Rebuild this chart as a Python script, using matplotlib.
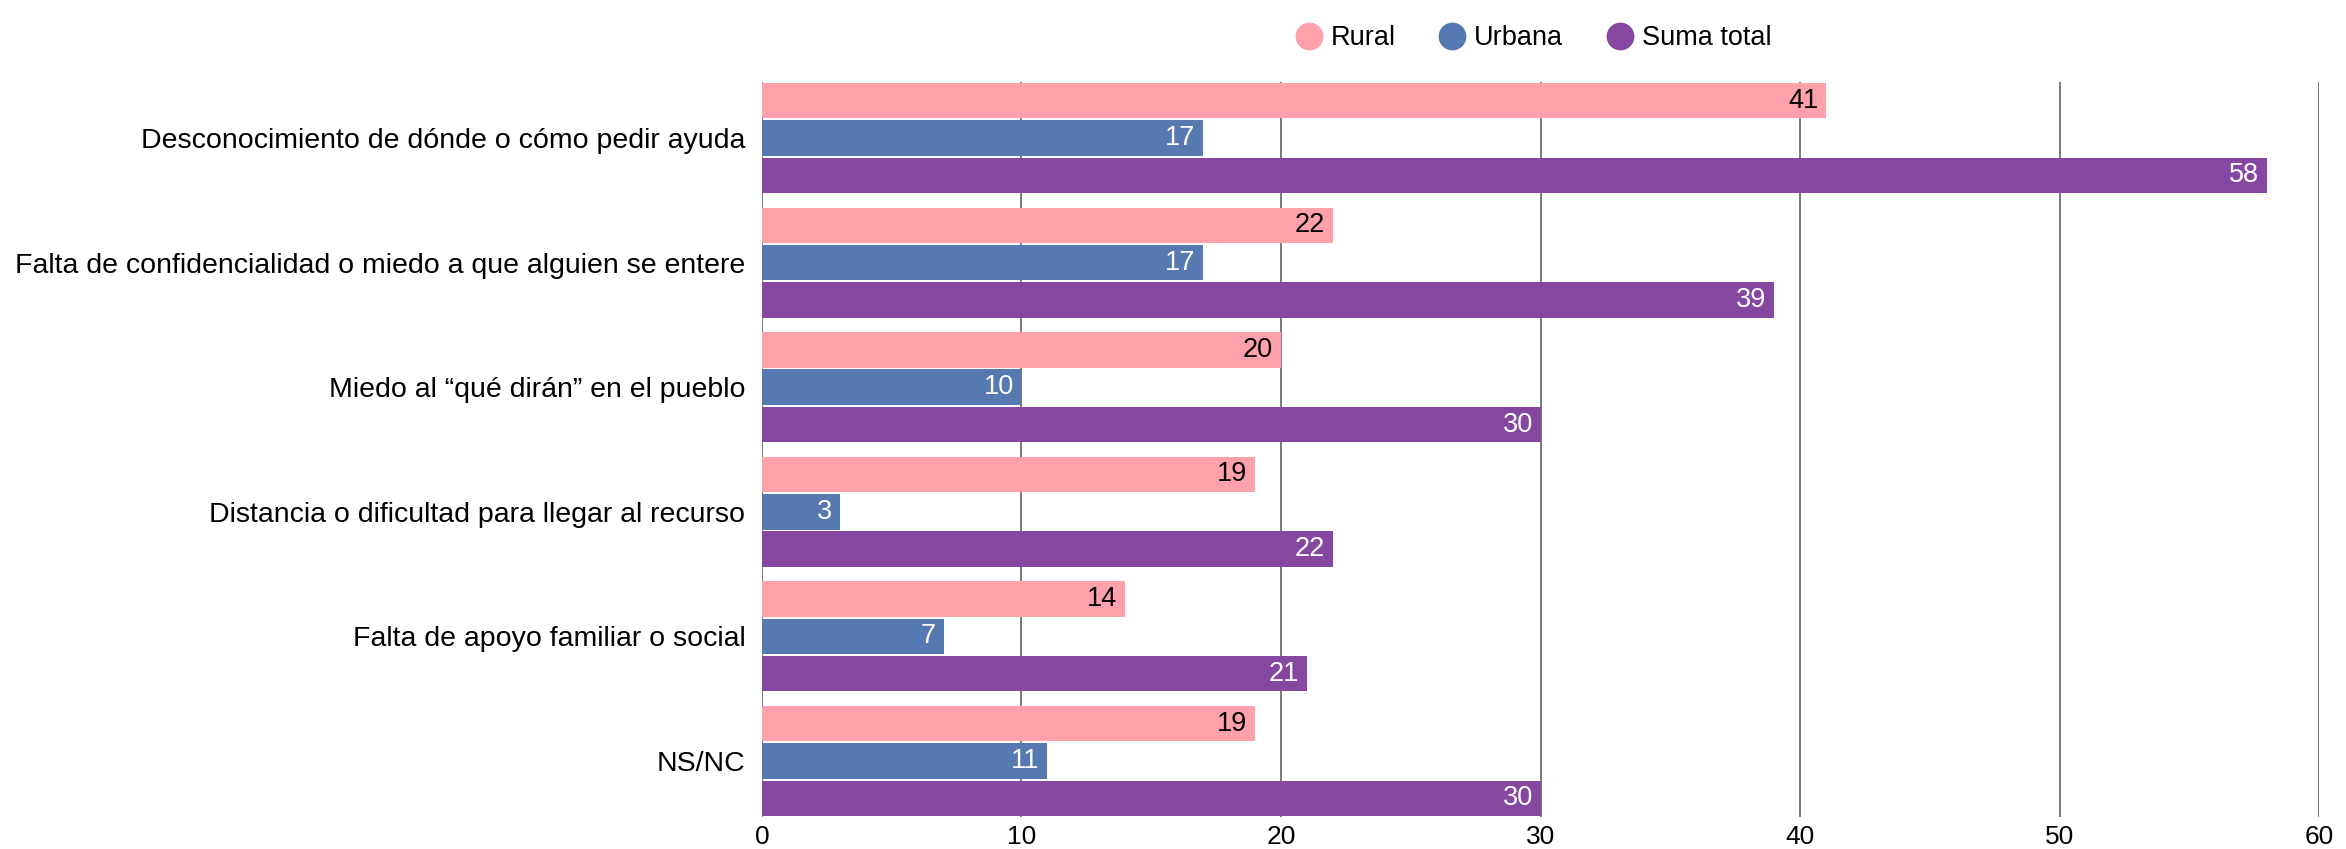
import numpy as np
import matplotlib.pyplot as plt
from matplotlib.lines import Line2D

plt.rcParams['font.family'] = ['Liberation Sans', 'DejaVu Sans']

categorias = [
    "Desconocimiento de dónde o cómo pedir ayuda",
    "Falta de confidencialidad o miedo a que alguien se entere",
    "Miedo al “qué dirán” en el pueblo",
    "Distancia o dificultad para llegar al recurso",
    "Falta de apoyo familiar o social",
    "NS/NC",
]
rural = [41, 22, 20, 19, 14, 19]
urbana = [17, 17, 10, 3, 7, 11]
suma_total = [58, 39, 30, 22, 21, 30]

series = ["Rural", "Urbana", "Suma total"]
colores = ["#FFA1AA", "#5579B0", "#8547A0"]
color_texto = ["black", "white", "white"]
x_ticks = [0, 10, 20, 30, 40, 50, 60]

fig = plt.figure(figsize=(23.46, 8.49), dpi=100)
ax = fig.add_axes([0.3248, 0.0377, 0.9885 - 0.3248, 0.9034 - 0.0377])

y = np.arange(len(categorias))
paso = 0.3
alto = 0.285

for k, (nombre, valores) in enumerate(zip(series, [rural, urbana, suma_total])):
    pos = y + (k - 1) * paso
    ax.barh(pos, valores, height=alto, color=colores[k], zorder=3, label=nombre)
    for p, v in zip(pos, valores):
        ax.text(v - 0.3, p, str(v), ha='right', va='center', fontsize=19.5,
                color=color_texto[k], zorder=4)

ax.set_xlim(0, 60)
ax.set_ylim(len(categorias) - 1 + 0.45, -0.45)
ax.set_xticks(x_ticks)
ax.set_xticklabels([str(t) for t in x_ticks], fontsize=19)
ax.set_yticks(y)
ax.set_yticklabels(categorias, fontsize=20.5)
ax.tick_params(axis='both', length=0)
ax.tick_params(axis='y', pad=12)
ax.tick_params(axis='x', pad=6)

for s in ax.spines.values():
    s.set_visible(False)
ax.grid(axis='x', color='#555555', linewidth=1.1, zorder=0)
ax.set_axisbelow(True)

handles = [Line2D([0], [0], marker='o', linestyle='', markersize=19,
                  markerfacecolor=c, markeredgecolor=c) for c in colores]
fig.legend(handles, series, loc='center', bbox_to_anchor=(0.653, 0.955), ncol=3,
           frameon=False, fontsize=19.5, handlelength=1.2, handletextpad=0.2,
           columnspacing=1.5)

fig.savefig("out.png", dpi=100)
